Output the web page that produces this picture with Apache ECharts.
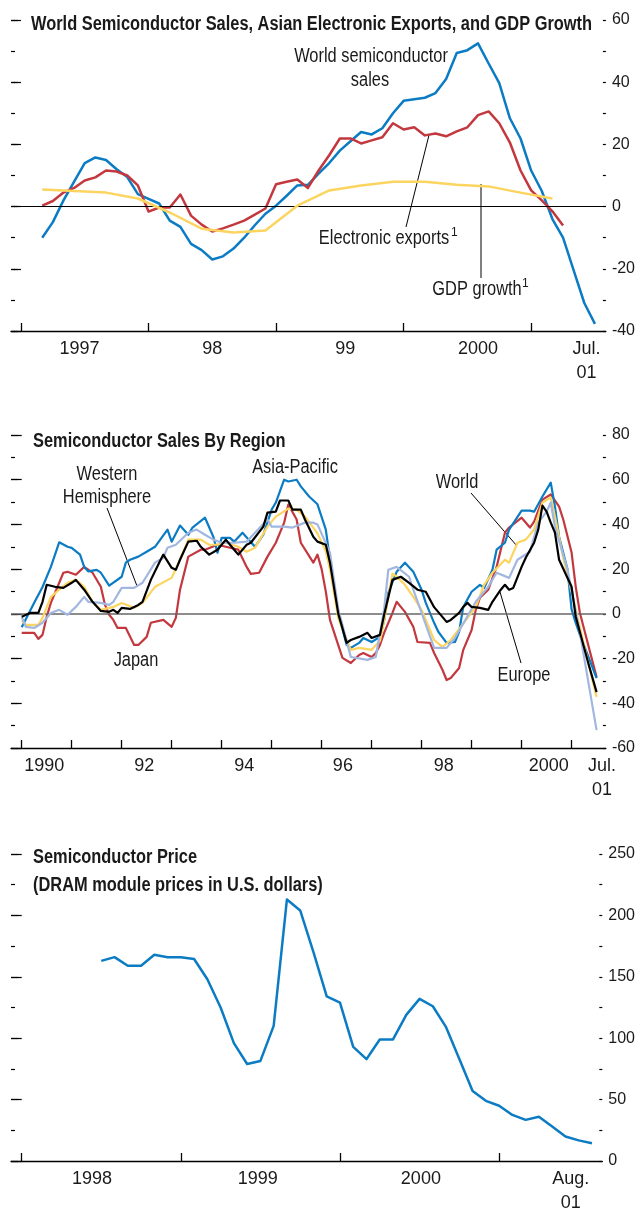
<!DOCTYPE html>
<html>
<head>
<meta charset="utf-8">
<script src="https://cdn.jsdelivr.net/npm/echarts@6/dist/echarts.min.js"></script>
<style>
  html, body { margin: 0; padding: 0; background: #fff; }
  #chart { width: 638px; height: 1215px; }
</style>
</head>
<body>
<div id="chart"></div>
<script>
const FONT = "'Liberation Sans', Arial, sans-serif"
const NARROW = 0.82 // squeeze text to look like the condensed face of the original

// ---- panel 1: months counted from Jan 1997 ----
const salesStart = 2 // Mar 1997
const worldSales = [-10, -5, 2, 8, 14, 15.8, 15, 12, 9.5, 4,
  2.5, 1, -4.5, -6.5, -12, -14, -17, -16, -13.5, -10, -6, -2.3,
  0.3, 3.5, 6.8, 7, 10.6, 14, 18, 21, 24, 23.2, 25.2, 30,
  34, 34.5, 35, 36.5, 41, 49.4, 50.3, 52.5, 46, 39.7, 28.4, 21.9,
  11.6, 5, -4, -10, -20.5, -31, -37.7]
const exportsStart = 2
const electronicExports = [0.3, 1.8, 4.5, 6, 8.4, 9.4, 11.6, 11.3, 10, 6.8,
  -1.6, -0.3, -0.3, 3.9, -2.9, -5.8, -8, -7, -5.8, -4.5, -2.6, -0.6,
  7.2, 8, 8.7, 6, 11.6, 16.5, 21.9, 21.9, 20.3, 21.3, 22.3, 26.8,
  24.8, 25.5, 22.9, 23.5, 22.6, 24.2, 25.5, 29.4, 30.6, 26.8, 20.6, 11.6,
  5.2, 2, -1.5, -6.1]
const gdpStart = 2 // quarterly
const gdpGrowth = [5.5, 5, 4.5, 2.6, -1.9, -7.1, -8.3, -7.7, 0.3, 5.2, 6.8, 8, 8, 7, 6.5, 4.5, 2.6]
const p1Ticks = [0, 12, 24, 36, 48]
const p1LabelAt = [5.5, 18, 30.5, 43, 53.2]
const p1Labels = ['1997', '98', '99', '2000', 'Jul.\n01']

// ---- panel 2: [month from Jan 1990, % change] ----
const asiaPacific = [[0, -6], [3, 5], [5, 12], [7, 21], [9, 32], [11, 30], [12, 29.5], [14, 26.5], [15, 21], [16, 19], [18, 19.7], [19, 18.4], [21, 12.6], [24, 16.6], [25, 22.9], [26, 24.2], [28, 25.6], [30, 27.8], [32, 30], [35, 37.7], [36, 32.3], [38, 39.5], [40, 35.4], [41, 38.6], [44, 43], [46, 34.5], [47, 27.4], [48, 34], [50, 34], [51, 32.3], [53, 36.3], [56, 30], [58, 35.4], [60, 46.6], [61, 49.8], [63, 60], [64, 59.2], [66, 60], [67, 57], [69, 52.5], [71, 49], [73, 37.7], [74, 24.2], [76, 0.4], [78, -13.9], [79, -15.2], [81, -13], [82, -10.8], [84, -12.6], [86, -10.3], [87, -3], [88, 9.4], [90, 18.8], [92, 22.9], [94, 18.8], [96, 10.8], [97, 4.9], [99, -4], [100, -8], [102, -13], [104, -12.6], [105, -8], [106, 3.1], [108, 9.9], [110, 13], [111, 11.6], [113, 19.7], [114, 28.7], [116, 31.8], [117, 37.7], [120, 46.2], [122, 46.2], [123, 45.7], [125, 52.5], [127, 58.7], [128, 48], [129, 34.5], [131, 20], [132, 2], [133, -4], [134, -9.4], [136, -19], [138, -28.7]]
const japan = [[0, -8.5], [3, -8.5], [4, -11.2], [5, -9.4], [6, -1.3], [7, 4.9], [10, 18.4], [11, 18.8], [13, 17.5], [15, 21], [17, 18.4], [19, 12.1], [20, 4], [21, -0.4], [22, -2.7], [23, -6.3], [25, -6.3], [27, -13.9], [28, -13.9], [30, -10.3], [31, -4], [34, -2.7], [36, -5.8], [37, -1.8], [38, 10.8], [40, 25.6], [43, 28.7], [44, 28.7], [47, 30.9], [49, 30], [52, 28.7], [54, 21], [55, 17.9], [57, 18.4], [59, 25.6], [61, 31.8], [63, 40.8], [64, 48.9], [66, 42.2], [67, 31.8], [70, 22.9], [71, 26.5], [72, 20], [73, 10], [74, -2.7], [77, -19.7], [79, -22], [81, -18.4], [82, -17.5], [84, -19.3], [85, -17.5], [86, -13.9], [87, -8.5], [89, 0.4], [90, 5.4], [92, 0.9], [94, -5.8], [95, -12.6], [98, -13], [99, -17.5], [101, -25], [102, -29.6], [103, -28.7], [105, -24.2], [106, -16.1], [108, -7.2], [109, 1.8], [110, 7.2], [112, 10.8], [114, 21], [116, 36.3], [117, 38.6], [120, 43], [122, 38.6], [123, 41.3], [125, 51.1], [127, 53.4], [129, 48], [130, 42.2], [132, 27.4], [133, 12.1], [134, 0.4], [138, -28.3]]
const europe = [[0, -3], [1, -4.9], [4, -4.9], [5, -1.8], [7, 7.6], [9, 10.8], [11, 13.9], [13, 15.2], [15, 12.1], [17, 5.4], [19, 1.8], [22, 3.1], [24, 4.9], [27, 2.7], [29, 4.9], [32, 12.1], [36, 16.1], [38, 24.2], [40, 33.2], [43, 33.2], [45, 30.9], [47, 30.9], [49, 31.8], [52, 30], [54, 27.8], [56, 29.6], [59, 39], [61, 43.5], [64, 47.1], [66, 46.6], [68, 43.5], [70, 38.6], [71, 36], [73, 28], [74, 20], [76, -2], [79, -16.1], [81, -15.2], [84, -16.1], [86, -12], [87, -3], [89, 18], [90, 16.6], [92, 13], [94, 7.6], [96, 1.8], [99, -11.7], [101, -14.8], [103, -11.7], [109, 3.1], [111, 13], [113, 18.4], [116, 24.2], [117, 22.9], [119, 31.8], [121, 33.2], [123, 37.7], [125, 49.8], [127, 52], [128, 43.5], [130, 25], [132, 10], [134, -6], [136, -22], [138, -37.2]]
const westernHemisphere = [[0, -1.3], [1, -5.8], [3, -6.3], [5, -4], [7, 0.4], [9, 1.8], [11, -0.4], [13, 3.1], [15, 7.6], [16, 5.4], [19, 4.9], [21, 4], [22, 5.4], [24, 11.6], [27, 11.6], [29, 13.9], [32, 22.9], [34, 25.1], [35, 29.6], [37, 30.9], [40, 36.3], [42, 37.7], [44, 35.4], [46, 33.2], [48, 31.8], [51, 31.8], [54, 32.3], [56, 36.3], [59, 42.2], [60, 39], [63, 39], [65, 38.6], [68, 40.8], [70, 40.8], [71, 40], [74, 27.4], [76, 2], [79, -19.3], [83, -20.6], [85, -19.3], [87, 2], [88, 19.7], [90, 21], [93, 16.6], [94, 10.8], [99, -15.2], [102, -15.2], [104, -10.8], [109, 5.4], [112, 12.1], [114, 18.4], [117, 16.1], [119, 24.2], [122, 27.8], [124, 40.8], [126, 45.7], [127, 49.8], [128, 39], [131, 20], [134, -8.5], [138, -52]]
const world = [[0, -1.3], [2, 0.4], [4, 0.4], [5, 5.4], [6, 13], [8, 12.1], [10, 11.6], [12, 13.9], [13, 15.2], [15, 10.8], [17, 5.4], [19, 1.3], [21, 0.9], [22, 1.8], [23, 0.4], [24, 2.7], [26, 2.2], [28, 4], [29, 5.4], [31, 15.2], [33, 22.9], [34, 26.5], [36, 20.6], [37, 19.7], [38, 24.2], [40, 32.3], [42, 32.7], [43, 30], [45, 26.5], [47, 28.7], [49, 33.2], [51, 28.7], [52, 26.5], [54, 30.9], [55, 31.8], [58, 39], [59, 45.3], [61, 45.7], [62, 50.7], [64, 50.7], [65, 46.6], [67, 46.6], [68, 42.2], [70, 34.5], [71, 32.3], [73, 30.9], [74, 22.9], [76, 0], [78, -13], [79, -11.7], [81, -10.3], [83, -8.5], [84, -10.8], [86, -9.4], [87, -0.4], [89, 15.2], [91, 16.6], [93, 13.9], [95, 10.8], [97, 9.9], [99, 3], [102, -3.6], [103, -2.7], [105, 0.4], [106, 3.1], [107, 4.9], [108, 3.1], [110, 2.7], [112, 1.8], [113, 5.4], [115, 10.8], [116, 13], [117, 10.8], [118, 11.6], [120, 21], [121, 25.1], [123, 31.8], [124, 37.7], [125, 48.4], [126, 45.7], [127, 40.8], [128, 36.3], [129, 24.2], [132, 12.1], [133, -1.3], [136, -22], [138, -35]]
const p2Ticks = [0, 12, 24, 36, 48, 60, 72, 84, 96, 108, 120, 132]
const p2LabelAt = [5.4, 29.4, 53.4, 77.1, 101.3, 126.5, 139.3]
const p2Labels = ['1990', '92', '94', '96', '98', '2000', 'Jul.\n01']

// ---- panel 3: monthly from Jul 1998 (months from Jan 1998) ----
const priceStart = 6
const dramPrice = [163, 166, 159, 159, 168, 166, 166, 164.5, 148, 125, 96, 79, 81.5, 110,
  213, 204, 170, 134, 129, 93, 83, 99, 99, 119, 132, 126,
  109, 83, 57, 49, 45, 37.5, 33.5, 36, 28, 20, 16.8, 14.4]
const p3Ticks = [0, 12, 24, 36]
const p3LabelAt = [5.3, 17.8, 30.1, 41.4]
const p3Labels = ['1998', '1999', '2000', 'Aug.\n01']

const BLUE = '#0b7cc3'
const RED = '#c3383f'
const YELLOW = '#fcd460'
const LIGHTBLUE = '#a2b7e0'
const TXT = '#1a1a1a'

function monthly (start, vals, step) {
  return vals.map((v, i) => [start + i * (step || 1), v])
}

function xAxis (gridIndex, min, max, ticks, labelAt, labels) {
  return {
    gridIndex: gridIndex,
    type: 'value',
    min: min,
    max: max,
    axisLine: { onZero: false, lineStyle: { color: '#000', width: 1.3 } },
    axisTick: { inside: true, length: 8, customValues: ticks, lineStyle: { color: '#000', width: 1.3 } },
    axisLabel: {
      customValues: labelAt,
      margin: 6,
      color: TXT,
      fontSize: 18,
      lineHeight: 24,
      fontFamily: FONT,
      formatter: function (v) {
        let i = labelAt.findIndex(p => Math.abs(p - v) < 1e-6)
        return i < 0 ? '' : labels[i]
      }
    },
    splitLine: { show: false }
  }
}

// one axis per tick length: long ticks (with labels on the right) and short ticks
function yAxis (gridIndex, side, min, max, interval, len, labels) {
  return {
    gridIndex: gridIndex,
    type: 'value',
    position: side,
    min: min,
    max: max,
    interval: interval,
    axisLine: { show: false },
    axisTick: { show: true, inside: true, length: len, lineStyle: { color: '#000', width: 1.2 } },
    axisLabel: { show: !!labels, margin: 6, color: TXT, fontSize: 16, fontFamily: FONT },
    splitLine: { show: false }
  }
}

function yAxes (gridIndex, min, max, major, minor) {
  return [
    yAxis(gridIndex, 'right', min, max, major, 7, true),
    yAxis(gridIndex, 'right', min, max, minor, 3),
    yAxis(gridIndex, 'left', min, max, major, 7),
    yAxis(gridIndex, 'left', min, max, minor, 4)
  ]
}

function text (x, y, str, opts) {
  opts = opts || {}
  return {
    type: 'text',
    x: x,
    y: y,
    scaleX: opts.sup ? 1 : NARROW,
    style: {
      text: str,
      fill: TXT,
      fontSize: opts.size || 20,
      fontWeight: opts.bold ? 'bold' : 'normal',
      fontFamily: FONT,
      align: opts.align || 'center',
      verticalAlign: 'middle'
    }
  }
}

function leader (x1, y1, x2, y2) {
  return { type: 'line', shape: { x1: x1, y1: y1, x2: x2, y2: y2 }, style: { stroke: '#000', lineWidth: 1 } }
}

function line (name, data, xi, yi, color, width, z) {
  return {
    name: name,
    type: 'line',
    xAxisIndex: xi,
    yAxisIndex: yi,
    data: data,
    showSymbol: false,
    z: z,
    lineStyle: { color: color, width: width, join: 'round' },
    animation: false
  }
}

function zeroLine (color, width) {
  return {
    silent: true,
    symbol: 'none',
    label: { show: false },
    lineStyle: { color: color, width: width, type: 'solid' },
    data: [{ yAxis: 0 }]
  }
}

let chart = echarts.init(document.getElementById('chart'))
let option = {
  animation: false,
  grid: [
    { left: 11, top: 20, width: 597, height: 311 },
    { left: 11, top: 435, width: 595, height: 313 },
    { left: 11, top: 854, width: 592, height: 313 }
  ],
  xAxis: [
    xAxis(0, -0.9375, 55.03, p1Ticks, p1LabelAt, p1Labels),
    xAxis(1, -2.568, 140.23, p2Ticks, p2LabelAt, p2Labels),
    xAxis(2, -0.806, 43.78, p3Ticks, p3LabelAt, p3Labels)
  ],
  yAxis: [].concat(
    yAxes(0, -40, 60, 20, 10),
    yAxes(1, -60, 80, 20, 10),
    yAxes(2, 0, 250, 50, 25)
  ),
  series: [
    Object.assign(line('World semiconductor sales', monthly(salesStart, worldSales), 0, 0, BLUE, 2.5, 3),
      { markLine: zeroLine('#000', 1) }),
    line('Electronic exports', monthly(exportsStart, electronicExports), 0, 0, RED, 2.5, 4),
    line('GDP growth', monthly(gdpStart, gdpGrowth, 3), 0, 0, YELLOW, 2.5, 5),

    Object.assign(line('Japan', japan, 1, 4, RED, 2.2, 3),
      { markLine: zeroLine('#666', 1.5) }),
    line('Asia-Pacific', asiaPacific, 1, 4, BLUE, 2.2, 4),
    line('Europe', europe, 1, 4, YELLOW, 2.2, 5),
    line('Western Hemisphere', westernHemisphere, 1, 4, LIGHTBLUE, 2.2, 6),
    line('World', world, 1, 4, '#000', 2.2, 7),

    line('DRAM price', monthly(priceStart, dramPrice), 2, 8, BLUE, 2.5, 3)
  ],
  graphic: [
    // panel 1
    text(31, 24, 'World Semiconductor Sales, Asian Electronic Exports, and GDP Growth', { bold: true, align: 'left' }),
    text(371, 56, 'World semiconductor'),
    text(370, 80, 'sales'),
    text(384, 238, 'Electronic exports'),
    text(451, 233, '1', { size: 12, align: 'left', sup: true }),
    leader(406, 227, 429, 135),
    text(477, 289, 'GDP growth'),
    text(522, 284, '1', { size: 12, align: 'left', sup: true }),
    leader(481, 278, 481, 184),
    // panel 2
    text(33, 441, 'Semiconductor Sales By Region', { bold: true, align: 'left' }),
    text(107, 474, 'Western'),
    text(107, 497, 'Hemisphere'),
    leader(107, 508, 137, 586),
    text(295, 467, 'Asia-Pacific'),
    text(457, 482, 'World'),
    leader(471, 493, 517, 546),
    text(136, 660, 'Japan'),
    text(524, 675, 'Europe'),
    leader(521, 663, 500, 592),
    // panel 3
    text(33, 857, 'Semiconductor Price', { bold: true, align: 'left' }),
    text(33, 885, '(DRAM module prices in U.S. dollars)', { bold: true, align: 'left' })
  ]
}
chart.setOption(option)
</script>
</body>
</html>
